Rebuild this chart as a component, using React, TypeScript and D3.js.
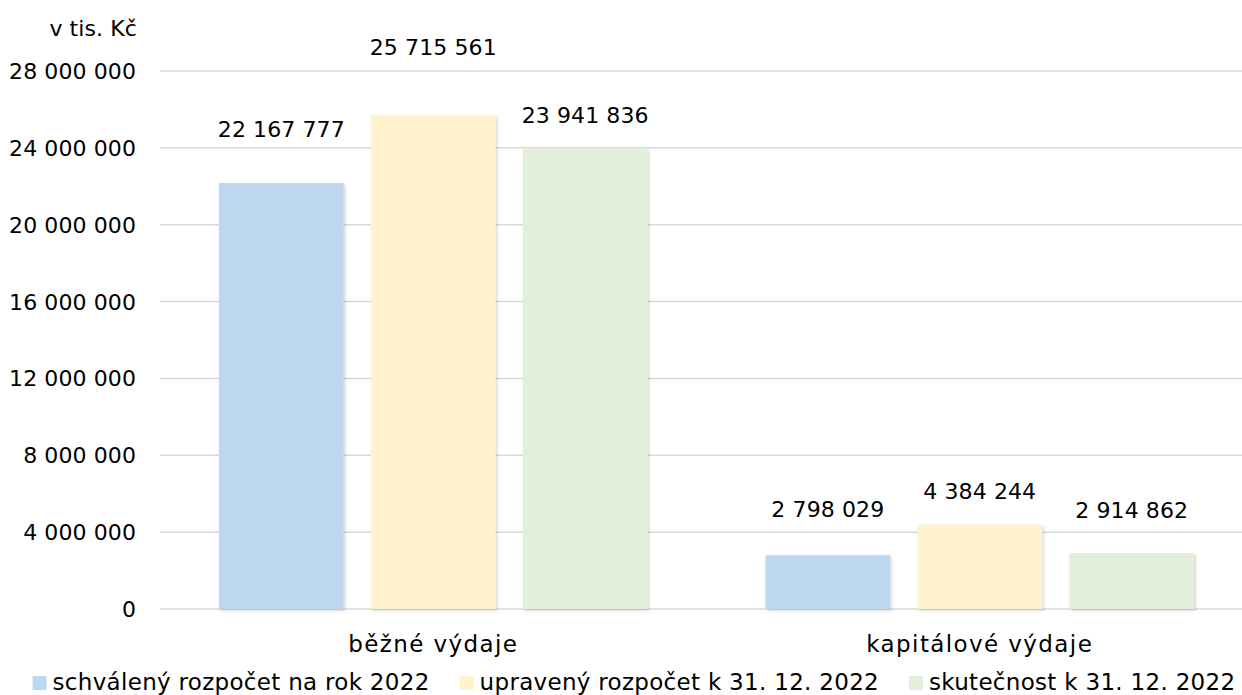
import { useLayoutEffect, useRef, useState } from "react";
import * as d3 from "d3";

const W = 1242, H = 695;
const PLOT = { left: 160, right: 1253, top: 71, bottom: 609 };
const FONT = "'DejaVu Sans', sans-serif";

const CATEGORIES = ["běžné výdaje", "kapitálové výdaje"];
const SERIES = [
  "schválený rozpočet na rok 2022",
  "upravený rozpočet k 31. 12. 2022",
  "skutečnost k 31. 12. 2022",
];
const SCHVALENY = [22167777, 2798029];
const UPRAVENY = [25715561, 4384244];
const SKUTECNOST = [23941836, 2914862];
const Y_TICKS = [0, 4000000, 8000000, 12000000, 16000000, 20000000, 24000000, 28000000];

const COLORS = ["#BDD7EE", "#FFF2CC", "#E2EFDA"];
// hand-placed label lift above each bar (px), as in the source chart
const LABEL_LIFT = [
  [46, 60, 26],
  [38, 26, 35],
];

const fmt = (v: number) => d3.format(",")(v).replace(/,/g, " ");

const NUM = { fontSize: 22, letterSpacing: 0.1 };
const TXT = { fontSize: 23, letterSpacing: 0.3 };

export default function App() {
  const seriesValues = [SCHVALENY, UPRAVENY, SKUTECNOST];

  const x0 = d3.scaleBand<string>().domain(CATEGORIES).range([PLOT.left, PLOT.right]);
  const bw = x0.bandwidth();
  const x1 = d3.scaleBand<string>().domain(SERIES).range([59, bw - 59]).paddingInner(0.18);
  const y = d3.scaleLinear().domain([0, 28000000]).range([PLOT.bottom, PLOT.top]);

  const legendRefs = useRef<(SVGTextElement | null)[]>([]);
  const [legendW, setLegendW] = useState<number[]>([387, 402, 303]);
  useLayoutEffect(() => {
    const ws = legendRefs.current.map((t) => (t ? t.getBBox().width : 0));
    if (ws.some((w, i) => Math.abs(w - legendW[i]) > 0.5)) setLegendW(ws);
  }, []);

  // legend layout: swatch 14, gap 6, item gap 30, centred
  const SW = 14, SG = 6, IG = 30;
  const itemW = legendW.map((w) => SW + SG + w);
  const totalW = d3.sum(itemW) + IG * (itemW.length - 1);
  let lx = 634 - totalW / 2;
  const legendX = itemW.map((w) => {
    const s = lx;
    lx += w + IG;
    return s;
  });

  return (
    <svg width={W} height={H} style={{ display: "block", background: "#fff" }}>
      <style>{`body{margin:0}`}</style>
      <defs>
        <filter id="shadow" x="-10%" y="-10%" width="130%" height="130%">
          <feDropShadow dx="1.5" dy="1.5" stdDeviation="1.5" floodColor="#000" floodOpacity="0.18" />
        </filter>
      </defs>

      {/* Grid */}
      {Y_TICKS.map((t) => (
        <line key={t} x1={PLOT.left} x2={W} y1={y(t)} y2={y(t)} stroke="#D9D9D9" strokeWidth={1.5} />
      ))}

      {/* Y tick labels */}
      {Y_TICKS.map((t) => (
        <text key={t} x={136} y={y(t) + 8} textAnchor="end" {...NUM} fill="#000" fontFamily={FONT}>
          {fmt(t)}
        </text>
      ))}
      <text x={137} y={36} textAnchor="end" {...NUM} fill="#000" fontFamily={FONT}>
        v tis. Kč
      </text>

      {/* Bars */}
      {CATEGORIES.map((c, ci) => (
        <g key={c} transform={`translate(${x0(c)},0)`}>
          {SERIES.map((s, si) => {
            const v = seriesValues[si][ci];
            return (
              <rect key={s} x={x1(s)} y={y(v)} width={x1.bandwidth()} height={y(0) - y(v)}
                fill={COLORS[si]} filter="url(#shadow)" />
            );
          })}
          {SERIES.map((s, si) => {
            const v = seriesValues[si][ci];
            return (
              <text key={s} x={(x1(s) as number) + x1.bandwidth() / 2} y={y(v) - LABEL_LIFT[ci][si]}
                textAnchor="middle" {...NUM} fill="#000" fontFamily={FONT}>
                {fmt(v)}
              </text>
            );
          })}
        </g>
      ))}

      {/* Category labels */}
      {CATEGORIES.map((c) => (
        <text key={c} x={(x0(c) as number) + bw / 2} y={652} textAnchor="middle"
          fontSize={23} letterSpacing={1.4} fill="#000" fontFamily={FONT}>
          {c}
        </text>
      ))}

      {/* Legend */}
      {SERIES.map((s, i) => (
        <g key={s} transform={`translate(${legendX[i]},0)`}>
          <rect x={0} y={676} width={SW} height={14} fill={COLORS[i]} />
          <text ref={(el) => { legendRefs.current[i] = el; }} x={SW + SG} y={690} {...TXT} fill="#000" fontFamily={FONT}>
            {s}
          </text>
        </g>
      ))}
    </svg>
  );
}
